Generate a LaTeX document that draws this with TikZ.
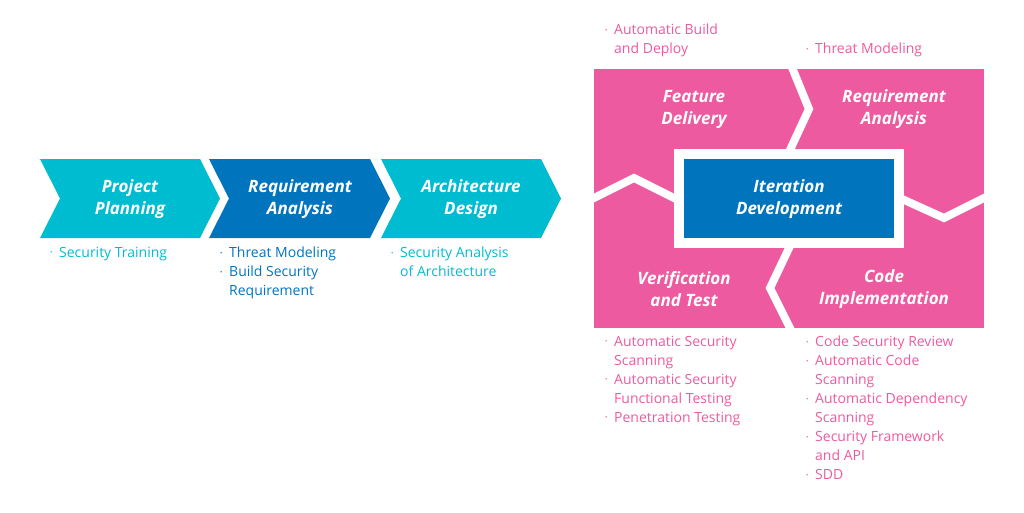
\documentclass[tikz,border=0pt]{standalone}
\usepackage{fontspec}
\setmainfont{Open Sans}
\usetikzlibrary{positioning}
\definecolor{cyanstep}{HTML}{00BCD0}
\definecolor{bluestep}{HTML}{0075BE}
\definecolor{pinkstep}{HTML}{EE5A9F}
\newcommand{\bul}{\makebox[9pt][l]{\raisebox{2.5pt}{\scalebox{0.45}{\textbullet}}}}
\newcommand{\ind}{\hspace*{9pt}}
\tikzset{
  phase/.style={font=\fontsize{17}{22}\selectfont\bfseries\itshape, text=white, align=center},
  notes/.style={font=\fontsize{14}{19}\selectfont, align=left, anchor=north west, inner sep=0pt},
  gap/.style={draw=white, line width=8pt, line join=miter}
}
\begin{document}
\begin{tikzpicture}[x=1pt,y=-1pt]
  \useasboundingbox (0,0) rectangle (1024,512);

  % chevrons
  \fill[cyanstep] (40,159) -- (200,159) -- (220,198.5) -- (200,238) -- (40,238) -- (60,198.5) -- cycle;
  \fill[bluestep] (209,159) -- (370,159) -- (390,198.5) -- (370,238) -- (209,238) -- (229,198.5) -- cycle;
  \fill[cyanstep] (381,159) -- (541,159) -- (561,198.5) -- (541,238) -- (381,238) -- (401,198.5) -- cycle;
  \node[phase] (plan) at (130,199) {Project\\Planning};
  \node[phase] (req) at (300,199) {Requirement\\Analysis};
  \node[phase] (arch) at (471,199) {Architecture\\Design};

  \node[notes, text=cyanstep] (plannotes) at (50,247) {\bul Security Training};
  \node[notes, text=bluestep] (reqnotes) at (220,247) {\bul Threat Modeling\\\bul Build Security\\\ind Requirement};
  \node[notes, text=cyanstep] (archnotes) at (391,247) {\bul Security Analysis\\\ind of Architecture};

  % iteration block
  \fill[pinkstep] (594,69) rectangle (984,328);
  \draw[gap] (791,65) -- (809,109) -- (789,152);
  \draw[gap] (590,200) -- (634,178) -- (676,199);
  \draw[gap] (902,199) -- (944,218) -- (988,196);
  \draw[gap] (790,246) -- (770,288) -- (792,332);
  \fill[white] (674,149) rectangle (904,248);
  \fill[bluestep] (684,159) rectangle (894,238);
  \node[phase] (iter) at (789,199) {Iteration\\Development};
  \node[phase] (feat) at (694,109) {Feature\\Delivery};
  \node[phase] (req2) at (894,109) {Requirement\\Analysis};
  \node[phase] (verif) at (684,289) {Verification\\and Test};
  \node[phase] (code) at (884,289) {Code\\Implementation};

  \node[notes, text=pinkstep] (featnotes) at (605,24) {\bul Automatic Build\\\ind and Deploy};
  \node[notes, text=pinkstep] (req2notes) at (806,43) {\bul Threat Modeling};
  \node[notes, text=pinkstep] (verifnotes) at (605,336) {\bul Automatic Security\\\ind Scanning\\\bul Automatic Security\\\ind Functional Testing\\\bul Penetration Testing};
  \node[notes, text=pinkstep] (codenotes) at (806,336) {\bul Code Security Review\\\bul Automatic Code\\\ind Scanning\\\bul Automatic Dependency\\\ind Scanning\\\bul Security Framework\\\ind and API\\\bul SDD};
\end{tikzpicture}
\end{document}
